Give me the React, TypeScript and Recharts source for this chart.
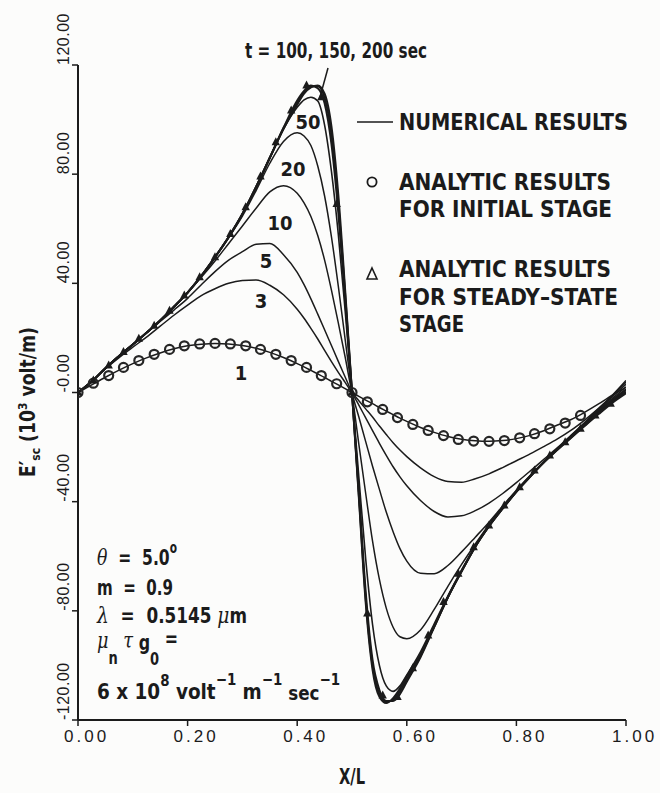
import React from 'react';
import { ComposedChart, Line, Scatter, XAxis, YAxis } from 'recharts';

const INK = '#1b1b1b';
const FONT = '"Liberation Sans Narrow", "DejaVu Sans Condensed", "Arial Narrow", sans-serif';
const TICK_FONT = '"Liberation Sans", "DejaVu Sans", Arial, sans-serif';
const GREEK_FONT = '"DejaVu Serif", "Liberation Serif", serif';
const SP = '\u00a0';

// X/L sample positions, denser around the steep crossing at 0.5
const xs = [
  0, 0.025, 0.05, 0.075, 0.1, 0.125, 0.15, 0.175, 0.2, 0.225, 0.25, 0.275, 0.3, 0.325, 0.35, 0.375, 0.4,
  0.4125, 0.425, 0.4375, 0.45, 0.4625, 0.475, 0.4875, 0.5, 0.5125, 0.525, 0.5375, 0.55, 0.5625, 0.575, 0.5875,
  0.6, 0.625, 0.65, 0.675, 0.7, 0.725, 0.75, 0.775, 0.8, 0.825, 0.85, 0.875, 0.9, 0.925, 0.95, 0.975, 1.0,
];

// numerical E'sc (10^3 volt/m) for each time t (sec)
const t1 = [
  0, 2.8, 5.6, 8.2, 10.6, 12.7, 14.5, 16.0, 17.1, 17.7, 18.0, 17.8, 17.2, 16.2, 14.7, 12.8, 10.6,
  9.4, 8.1, 6.8, 5.5, 4.1, 2.8, 1.4, 0, -1.4, -2.8, -4.1, -5.5, -6.8, -8.1, -9.4,
  -10.6, -12.8, -14.6, -16.1, -17.1, -17.7, -17.9, -17.6, -16.9, -15.7, -14.0, -11.9, -9.9, -7.2, -4.2, -1.0, 2.0,
];
const t3 = [
  0, 4.0, 8.7, 12.8, 16.6, 20.3, 24.3, 28.3, 32.0, 35.5, 38.0, 40.0, 41.0, 41.2, 39.3, 35.8, 30.5,
  27.2, 23.5, 19.6, 15.4, 11.3, 7.4, 3.7, 0, -3.0, -6.0, -9.0, -12.3, -15.4, -18.4, -21.1,
  -23.5, -27.6, -30.8, -32.6, -32.9, -31.6, -29.8, -27.5, -25.0, -22.5, -19.8, -17.0, -13.8, -10.0, -5.8, -1.0, 4.4,
];
const t5 = [
  0, 4.0, 8.9, 13.4, 17.6, 21.8, 26.0, 30.2, 34.5, 39.5, 44.3, 48.5, 51.6, 54.3, 54.6, 50.5, 44.0,
  39.5, 34.3, 28.7, 23.0, 17.2, 11.4, 5.7, 0, -4.6, -9.3, -14.0, -18.6, -23.0, -27.2, -30.9,
  -34.2, -39.6, -43.6, -45.6, -45.2, -43.3, -40.5, -37.0, -33.0, -28.8, -24.5, -20.2, -15.6, -10.9, -6.0, -1.2, 3.8,
];
const t10 = [
  0, 4.0, 8.9, 13.4, 17.6, 21.9, 26.4, 31.4, 36.5, 42.2, 48.2, 54.6, 61.0, 67.5, 73.5, 75.8, 73.0,
  69.5, 64.5, 57.5, 48.5, 37.5, 25.5, 13.0, 0, -9.0, -18.0, -27.0, -35.5, -43.8, -51.0, -57.2,
  -61.8, -66.2, -66.4, -63.4, -58.4, -53.0, -47.5, -41.6, -35.8, -30.4, -25.4, -20.6, -15.9, -11.1, -6.4, -1.6, 3.0,
];
const t20 = [
  0, 4.0, 8.9, 13.4, 17.6, 21.9, 26.4, 31.4, 36.6, 42.6, 49.4, 56.7, 64.6, 74.0, 84.0, 92.0, 95.2,
  94.0, 90.5, 83.0, 72.0, 57.0, 39.0, 19.5, 0, -19.0, -37.0, -54.5, -68.5, -79.0, -86.0, -89.5,
  -90.2, -87.0, -79.5, -71.0, -63.0, -55.5, -48.3, -41.8, -36.0, -30.6, -25.5, -20.7, -16.0, -11.5, -6.8, -2.2, 2.0,
];
const t50 = [
  0, 4.0, 8.9, 13.4, 17.6, 21.9, 26.4, 31.4, 36.6, 42.7, 49.6, 57.0, 65.4, 75.3, 86.0, 96.5, 104.5,
  107.2, 108.2, 106.8, 98.0, 81.0, 58.0, 30.0, 0, -31.0, -61.0, -85.0, -100.0, -107.5, -109.5, -107.5,
  -103.5, -95.0, -84.8, -74.5, -65.0, -56.2, -48.7, -42.2, -36.2, -30.7, -25.5, -20.7, -16.1, -11.6, -7.1, -2.7, 1.2,
];
const t100 = [
  0, 4.0, 8.9, 13.4, 17.6, 21.9, 26.4, 31.4, 36.6, 42.7, 49.6, 57.0, 65.4, 75.3, 86.0, 97.0, 107.0,
  110.5, 112.5, 111.5, 106.0, 91.0, 66.0, 34.0, 0, -36.0, -73.0, -98.0, -109.0, -113.0, -113.0, -110.5,
  -106.0, -97.0, -86.0, -75.0, -65.5, -56.5, -49.0, -42.5, -36.3, -30.8, -25.5, -20.8, -16.3, -11.8, -7.3, -3.0, 1.0,
];
const t150 = [
  0, 4.0, 8.9, 13.4, 17.6, 21.9, 26.4, 31.4, 36.6, 42.7, 49.6, 57.0, 65.4, 75.3, 86.0, 96.8, 106.0,
  110.0, 112.2, 112.2, 108.0, 94.5, 69.5, 36.0, 0, -37.5, -75.5, -100.0, -110.5, -113.5, -112.5, -109.5,
  -105.0, -96.5, -85.8, -75.0, -65.5, -56.5, -49.0, -42.5, -36.3, -30.8, -25.6, -20.9, -16.4, -12.0, -7.6, -3.4, 0.3,
];
const t200 = [
  0, 4.0, 8.9, 13.4, 17.6, 21.9, 26.4, 31.4, 36.6, 42.7, 49.6, 57.0, 65.4, 75.3, 86.0, 96.6, 105.5,
  109.5, 111.8, 112.5, 109.5, 97.5, 72.5, 37.5, 0, -38.5, -77.0, -101.5, -111.5, -113.8, -112.0, -108.5,
  -104.0, -96.0, -85.6, -75.0, -65.5, -56.5, -49.0, -42.5, -36.4, -30.9, -25.7, -21.0, -16.6, -12.2, -7.9, -3.8, -0.3,
];

// analytic solution, initial stage (circles)
const circleX = [
  0, 0.028, 0.056, 0.083, 0.111, 0.139, 0.167, 0.194, 0.222, 0.25, 0.278, 0.306, 0.333, 0.361, 0.389, 0.417, 0.444,
  0.472, 0.5, 0.528, 0.556, 0.583, 0.611, 0.639, 0.667, 0.694, 0.722, 0.75, 0.778, 0.806, 0.833, 0.861, 0.889, 0.917,
];
const circleY = [
  0, 3.4, 6.2, 9.2, 11.7, 14.0, 15.8, 17.1, 17.8, 18.0, 17.8, 17.1, 15.8, 14.0, 11.7, 9.2, 6.2,
  3.2, 0, -3.4, -6.2, -9.2, -11.7, -13.9, -15.8, -17.2, -17.8, -17.9, -17.6, -16.6, -15.1, -13.3, -11.2, -8.4,
];

// analytic solution, steady-state stage (triangles)
const triX = [
  0, 0.028, 0.056, 0.083, 0.111, 0.139, 0.167, 0.194, 0.222, 0.25, 0.278, 0.306, 0.333, 0.361, 0.389, 0.417, 0.444,
  0.472, 0.5, 0.528, 0.556, 0.583, 0.611, 0.639, 0.667, 0.694, 0.722, 0.75, 0.778, 0.806, 0.833, 0.861, 0.889, 0.917,
  0.944, 0.972,
];
const triY = [
  0, 4.4, 9.9, 14.8, 19.7, 24.5, 30.0, 35.5, 42.2, 49.6, 58.1, 67.9, 79.1, 91.7, 103.3, 112.5, 108.2,
  69.1, 0, -81.0, -111.0, -111.6, -101.0, -89.0, -76.8, -66.4, -56.7, -48.7, -41.4, -34.7, -28.6, -23.1, -18.2, -13.3,
  -8.4, -4.1,
];

const xTicks = [0, 0.2, 0.4, 0.6, 0.8, 1.0];
const xTickLabels = ['0.00', '0.20', '0.40', '0.60', '0.80', '1.00'];
const yTicks = [-120, -80, -40, 0, 40, 80, 120];
const yTickLabels = ['-120.00', '-80.00', '-40.00', '-0.00', '40.00', '80.00', '120.00'];

const curveLabels = ['1', '3', '5', '10', '20', '50'];
const curveLabelPos = [
  [241, 380], [261, 308], [266, 268], [280, 230], [293, 176], [308, 129],
];

const rows = xs.map((x, i) => ({
  x,
  t1: t1[i], t3: t3[i], t5: t5[i], t10: t10[i], t20: t20[i],
  t50: t50[i], t100: t100[i], t150: t150[i], t200: t200[i],
}));
const circlePts = circleX.map((x, i) => ({ x, v: circleY[i] }));
const triPts = triX.map((x, i) => ({ x, v: triY[i] }));

const series = [
  { key: 't1', w: 1.5 },
  { key: 't3', w: 1.5 },
  { key: 't5', w: 1.5 },
  { key: 't10', w: 1.5 },
  { key: 't20', w: 1.5 },
  { key: 't50', w: 1.6 },
  { key: 't100', w: 2 },
  { key: 't150', w: 2 },
  { key: 't200', w: 2 },
];

function XTick(props: any) {
  const { x, y, payload } = props;
  const label = xTickLabels[xTicks.indexOf(payload.value)];
  return (
    <text x={x - 14} y={y + 14} fontFamily={TICK_FONT} fontSize={17} fill={INK} letterSpacing={3}>
      {label}
    </text>
  );
}

function YTick(props: any) {
  const { x, y, payload } = props;
  const label = yTickLabels[yTicks.indexOf(payload.value)];
  const bx = x - 1;
  return (
    <text
      x={bx}
      y={y}
      transform={`rotate(-90 ${bx} ${y})`}
      textAnchor="start"
      fontFamily={TICK_FONT}
      fontSize={16}
      fill={INK}
      letterSpacing={0.5}
    >
      {label}
    </text>
  );
}

const circleShape = (p: any) => (
  <circle cx={p.cx} cy={p.cy} r={4.5} fill="none" stroke="#262626" strokeWidth={2.2} />
);
const triShape = (p: any) => (
  <path
    d={`M${p.cx},${p.cy - 5} L${p.cx + 4.2},${p.cy + 3} L${p.cx - 4.2},${p.cy + 3} Z`}
    fill={INK}
  />
);

const greek = { fontFamily: GREEK_FONT, fontStyle: 'italic', fontWeight: 400 } as const;

// one fitted line of bold condensed text
function T(props: { x: number; y: number; w?: number; size?: number; anchor?: string; children: React.ReactNode }) {
  const { x, y, w, size = 22, anchor, children } = props;
  return (
    <text
      x={x}
      y={y}
      fontSize={size}
      fill={INK}
      fontFamily={FONT}
      fontWeight={700}
      textAnchor={anchor as any}
      textLength={w}
      lengthAdjust={w ? 'spacingAndGlyphs' : undefined}
    >
      {children}
    </text>
  );
}

function Notes() {
  return (
    <svg width={660} height={793} style={{ position: 'absolute', left: 0, top: 0, pointerEvents: 'none' }}>
      {/* time annotation for the saturated curves */}
      <T x={245} y={58} w={182}>t = 100, 150, 200 sec</T>
      <line x1={328} y1={68} x2={320} y2={97} stroke={INK} strokeWidth={1.5} />

      {curveLabels.map((c, i) => (
        <T key={c} x={curveLabelPos[i][0]} y={curveLabelPos[i][1]} size={20} anchor="middle">
          {c}
        </T>
      ))}

      {/* key */}
      <line x1={357} y1={122} x2={393} y2={122} stroke={INK} strokeWidth={1.6} />
      <T x={399} y={130} w={229} size={23}>NUMERICAL RESULTS</T>
      <circle cx={372} cy={182} r={4.6} fill="none" stroke={INK} strokeWidth={1.8} />
      <T x={399} y={190} w={212} size={23}>ANALYTIC RESULTS</T>
      <T x={399} y={217} w={213} size={23}>FOR INITIAL STAGE</T>
      <path d="M372,268 L377,279 L367,279 Z" fill="none" stroke={INK} strokeWidth={1.6} />
      <T x={399} y={277} w={212} size={23}>ANALYTIC RESULTS</T>
      <T x={399} y={305} w={219} size={23}>FOR STEADY–STATE</T>
      <T x={399} y={332} w={65} size={23}>STAGE</T>

      {/* parameters */}
      <T x={97} y={565} w={80}>
        <tspan {...greek}>θ</tspan>
        <tspan>{`${SP}${SP}=${SP}${SP}5.0`}</tspan>
        <tspan dy={-12} fontSize={15}>o</tspan>
      </T>
      <T x={97} y={595} w={76}>{`m${SP}${SP}=${SP}${SP}0.9`}</T>
      <T x={97} y={623} w={150}>
        <tspan {...greek}>λ</tspan>
        <tspan>{`${SP}${SP}=${SP}${SP}0.5145${SP}`}</tspan>
        <tspan {...greek}>μ</tspan>
        <tspan>m</tspan>
      </T>
      <T x={97} y={648} w={81}>
        <tspan {...greek}>μ</tspan>
        <tspan dy={16} fontSize={18}>n</tspan>
        <tspan dy={-16} {...greek}>{`${SP}τ${SP}`}</tspan>
        <tspan dy={2}>g</tspan>
        <tspan dy={15} fontSize={18}>0</tspan>
        <tspan dy={-19}>{`${SP}=`}</tspan>
      </T>
      <T x={97} y={699} w={243}>
        <tspan>6 x 10</tspan>
        <tspan dy={-13} fontSize={16}>8</tspan>
        <tspan dy={13}>{`${SP}volt`}</tspan>
        <tspan dy={-14} fontSize={16}>−1</tspan>
        <tspan dy={14}>{`${SP}m`}</tspan>
        <tspan dy={-14} fontSize={16}>−1</tspan>
        <tspan dy={15} fontSize={20}>{`${SP}sec`}</tspan>
        <tspan dy={-15} fontSize={16}>−1</tspan>
      </T>

      {/* axis titles */}
      <text
        x={35}
        y={402}
        transform="rotate(-90 35 402)"
        textAnchor="middle"
        fontSize={21}
        fontFamily={FONT}
        fontWeight={700}
        fill={INK}
        textLength={150}
        lengthAdjust="spacingAndGlyphs"
      >
        <tspan>E′</tspan>
        <tspan dy={5} fontSize={13}>sc</tspan>
        <tspan dy={-5}> (10</tspan>
        <tspan dy={-8} fontSize={13}>3</tspan>
        <tspan dy={8}> volt/m)</tspan>
      </text>
      <T x={352} y={784} anchor="middle" w={26}>X/L</T>
    </svg>
  );
}

export default function App() {
  return (
    <div style={{ position: 'absolute', left: 0, top: 0, width: 660, height: 793, background: '#fcfcfb' }}>
      <ComposedChart width={660} height={793} data={rows} margin={{ top: 65, right: 34, bottom: 43, left: 18 }}>
        <XAxis
          type="number"
          dataKey="x"
          domain={[0, 1]}
          ticks={xTicks}
          interval={0}
          height={30}
          allowDataOverflow
          axisLine={{ stroke: INK, strokeWidth: 2 }}
          tickLine={{ stroke: INK, strokeWidth: 1.5 }}
          tickSize={6}
          tick={<XTick />}
        />
        <YAxis
          type="number"
          domain={[-120, 120]}
          ticks={yTicks}
          interval={0}
          width={60}
          allowDataOverflow
          axisLine={{ stroke: INK, strokeWidth: 2 }}
          tickLine={{ stroke: INK, strokeWidth: 1.5 }}
          tickSize={6}
          tick={<YTick />}
        />
        {series.map((s) => (
          <Line
            key={s.key}
            type="monotone"
            dataKey={s.key}
            stroke={INK}
            strokeWidth={s.w}
            dot={false}
            activeDot={false}
            isAnimationActive={false}
          />
        ))}
        <Scatter data={circlePts} dataKey="v" shape={circleShape} isAnimationActive={false} />
        <Scatter data={triPts} dataKey="v" shape={triShape} isAnimationActive={false} />
      </ComposedChart>
      <Notes />
    </div>
  );
}
